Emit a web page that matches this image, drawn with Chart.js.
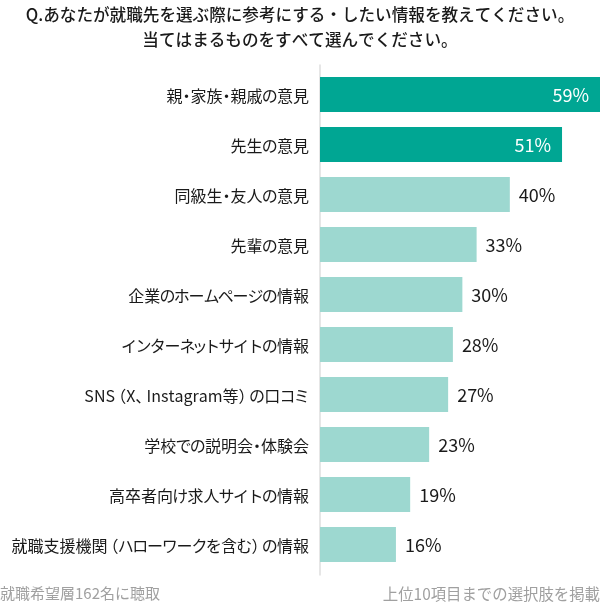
<!DOCTYPE html>
<html><head><meta charset="utf-8">
<script src="https://cdn.jsdelivr.net/npm/chart.js@4.4.1/dist/chart.umd.min.js"></script>
<style>
html,body{margin:0;padding:0;background:#fff;}
#wrap{position:relative;width:600px;height:607px;}
.foot{position:absolute;top:583px;font-family:"Noto Sans CJK JP","Noto Sans",sans-serif;font-size:15px;color:#a0a0a0;line-height:20px;white-space:nowrap;}
</style></head>
<body>
<div id="wrap">
<canvas id="c" width="600" height="607"></canvas>
<div class="foot" style="left:0">就職希望層162名に聴取</div>
<div class="foot" style="right:0;font-size:15.4px">上位10項目までの選択肢を掲載</div>
</div>
<script>
const titleLines = ["Q.あなたが就職先を選ぶ際に参考にする・したい情報を教えてください。", "当てはまるものをすべて選んでください。"];
const categories = ["親・家族・親戚の意見","先生の意見","同級生・友人の意見","先輩の意見","企業のホームページの情報","インターネットサイトの情報","SNS（X、Instagram等）の口コミ","学校での説明会・体験会","高卒者向け求人サイトの情報","就職支援機関（ハローワークを含む）の情報"];
const values = [59,51,40,33,30,28,27,23,19,16];
const highlightCount = 2;
const darkColor = "#00a693";
const lightColor = "#9dd8d0";
const FONT = '"Noto Sans CJK JP","Noto Sans",sans-serif';

// proportional-width rendering of Japanese labels (kana and punctuation narrower than kanji)
const OPEN = '（「';
const CLOSE = '）」、。';
const SMALL = 'ッャュョァィゥェォっゃゅょぁぃぅぇぉ';
function advanceEm(ch){
  if(ch === '・') return 0.5;
  if(OPEN.includes(ch) || CLOSE.includes(ch)) return 0.7;
  if(SMALL.includes(ch)) return 0.65;
  if(ch === 'ー') return 0.95;
  const c = ch.codePointAt(0);
  if(c >= 0x3040 && c <= 0x30ff) return 0.9;
  return null; // kanji / latin: natural width
}
function drawPropRight(ctx, text, rightX, y, size){
  ctx.textAlign = 'left';
  const gl = [];
  let total = 0;
  for(const ch of text){
    const wn = ctx.measureText(ch).width;
    const em = advanceEm(ch);
    const w = em === null ? wn : em*size;
    let shift = -(wn - w)/2;
    if(OPEN.includes(ch)) shift = -(wn - w);
    if(CLOSE.includes(ch)) shift = 0;
    gl.push({ch, x: total + shift});
    total += w;
  }
  const x0 = rightX - total;
  gl.forEach(g => ctx.fillText(g.ch, x0 + g.x, y));
}

const labelsAndTitle = {
  id:'labelsAndTitle',
  afterDraw(chart){
    const ctx=chart.ctx, ys=chart.scales.y;
    ctx.save();
    ctx.fillStyle='#1a1a1a';
    ctx.textBaseline='middle';
    ctx.font='16px ' + FONT;
    categories.forEach((c,i)=>{
      drawPropRight(ctx, c, ys.right-11, ys.getPixelForTick(i)+1, 16);
    });
    ctx.font='500 16.6px '+FONT;
    ctx.textAlign='center';
    titleLines.forEach((t,i)=>{
      ctx.fillText(t, 300, 15+25*i);
    });
    ctx.restore();
  }
};
const valueLabels = {
  id:'valueLabels',
  afterDatasetsDraw(chart){
    const ctx = chart.ctx;
    const meta = chart.getDatasetMeta(0);
    ctx.save();
    ctx.font = '18px ' + FONT;
    ctx.textBaseline = 'middle';
    meta.data.forEach((bar,i)=>{
      const txt = values[i] + '%';
      if(i < highlightCount){
        ctx.fillStyle = '#ffffff';
        ctx.textAlign = 'right';
        ctx.fillText(txt, bar.x - 11, bar.y + 1);
      } else {
        ctx.fillStyle = '#1a1a1a';
        ctx.textAlign = 'left';
        ctx.fillText(txt, bar.x + 9, bar.y + 1);
      }
    });
    ctx.restore();
  }
};
const axisLine = {
  id:'axisLine',
  beforeDatasetsDraw(chart){
    const {ctx, chartArea} = chart;
    ctx.save();
    ctx.strokeStyle = '#e6e6e6';
    ctx.lineWidth = 2;
    ctx.beginPath();
    ctx.moveTo(chartArea.left, chartArea.top - 5);
    ctx.lineTo(chartArea.left, chartArea.bottom + 6);
    ctx.stroke();
    ctx.restore();
  }
};

new Chart(document.getElementById('c'), {
  type:'bar',
  data:{
    labels:categories,
    datasets:[{
      data:values,
      backgroundColor: values.map((v,i)=> i<highlightCount ? darkColor : lightColor),
      barPercentage:0.7,
      categoryPercentage:1.0,
      borderWidth:0
    }]
  },
  options:{
    indexAxis:'y',
    responsive:false,
    animation:false,
    devicePixelRatio:1,
    layout:{padding:{left:0,right:0,top:69.5,bottom:37.5}},
    scales:{
      x:{display:false,min:0,max:59},
      y:{
        grid:{display:false,drawTicks:false},
        border:{display:false},
        ticks:{display:false},
        afterFit(scale){ scale.width = 320; }
      }
    },
    plugins:{
      legend:{display:false},
      tooltip:{enabled:false},
      title:{display:false}
    }
  },
  plugins:[axisLine,valueLabels,labelsAndTitle]
});
</script>
</body></html>
